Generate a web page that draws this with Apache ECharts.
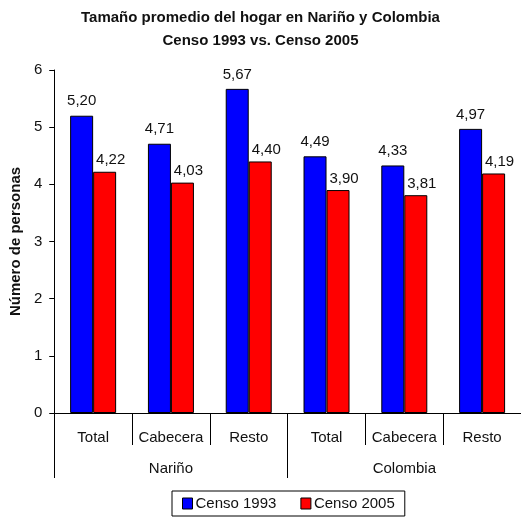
<!DOCTYPE html>
<html>
<head>
<meta charset="utf-8">
<script src="https://cdn.jsdelivr.net/npm/echarts@6/dist/echarts.min.js"></script>
<style>
  html, body { margin: 0; padding: 0; background: #fff; }
  #chart { width: 521px; height: 518px; }
</style>
</head>
<body>
<div id="chart"></div>
<script>
// Household size by area, two census years
const areas = ['Total', 'Cabecera', 'Resto', 'Total', 'Cabecera', 'Resto'];
const regions = ['Nariño', 'Colombia'];
const censo1993 = [5.20, 4.71, 5.67, 4.49, 4.33, 4.97];
const censo2005 = [4.22, 4.03, 4.40, 3.90, 3.81, 4.19];
const yTicks = [0, 1, 2, 3, 4, 5, 6];

const FONT = 'Liberation Sans, Arial, sans-serif';
const INK = '#111';
const SIZE = 15;

const chart = echarts.init(document.getElementById('chart'), null, { renderer: 'canvas' });

function valueLabel(offset) {
  return {
    show: true,
    position: 'top',
    distance: 5,
    offset: offset,
    fontFamily: FONT,
    fontSize: SIZE,
    color: INK,
    formatter: p => p.value.toFixed(2).replace('.', ',')
  };
}

chart.setOption({
  animation: false,
  backgroundColor: '#fff',
  textStyle: { fontFamily: FONT },
  title: {
    text: 'Tamaño promedio del hogar en Nariño y Colombia\nCenso 1993 vs. Censo 2005',
    left: 'center',
    top: 1,
    textStyle: { fontFamily: FONT, fontSize: SIZE, fontWeight: 'bold', color: INK, lineHeight: 23 }
  },
  legend: {
    bottom: 2,
    left: 172,
    data: ['Censo 1993', 'Censo 2005'],
    icon: 'rect',
    itemWidth: 10,
    itemHeight: 11,
    itemGap: 24,
    padding: [5, 10, 5, 10],
    borderColor: '#000',
    borderWidth: 1,
    itemStyle: { borderColor: '#000', borderWidth: 1 },
    textStyle: { fontFamily: FONT, fontSize: SIZE, color: INK, padding: [0, 0, 0, -2] }
  },
  // plot area runs slightly past the right edge of the page
  grid: { left: 52, width: 476, top: 70, bottom: 105 },
  xAxis: [
    {
      type: 'category',
      data: areas,
      axisLine: { lineStyle: { color: '#000', width: 1 } },
      axisTick: { show: true, interval: 0, length: 32, lineStyle: { color: '#000' } },
      axisLabel: { interval: 0, margin: 17, fontFamily: FONT, fontSize: SIZE, color: INK }
    },
    {
      type: 'category',
      data: regions,
      position: 'bottom',
      axisLine: { show: false },
      axisTick: { show: true, interval: 0, length: 65, lineStyle: { color: '#000' } },
      axisLabel: { interval: 0, margin: 48, fontFamily: FONT, fontSize: SIZE, color: INK }
    }
  ],
  yAxis: {
    type: 'value',
    min: yTicks[0],
    max: yTicks[yTicks.length - 1],
    interval: 1,
    name: 'Número de personas',
    nameLocation: 'middle',
    nameGap: 21,
    nameTextStyle: { fontFamily: FONT, fontSize: SIZE, fontWeight: 'bold', color: INK },
    axisLine: { show: true, lineStyle: { color: '#000' } },
    axisTick: { show: true, length: 5, lineStyle: { color: '#000' } },
    axisLabel: { margin: 12, fontFamily: FONT, fontSize: SIZE, color: INK },
    splitLine: { show: false }
  },
  series: [
    {
      name: 'Censo 1993',
      type: 'bar',
      data: censo1993,
      barWidth: 23,
      barGap: '0%',
      itemStyle: { color: '#0000ff', borderColor: '#000', borderWidth: 1 },
      label: valueLabel([0, -2])
    },
    {
      name: 'Censo 2005',
      type: 'bar',
      data: censo2005,
      barWidth: 23,
      barGap: '0%',
      itemStyle: { color: '#ff0000', borderColor: '#000', borderWidth: 1 },
      label: valueLabel([6, 1])
    }
  ]
});
</script>
</body>
</html>
